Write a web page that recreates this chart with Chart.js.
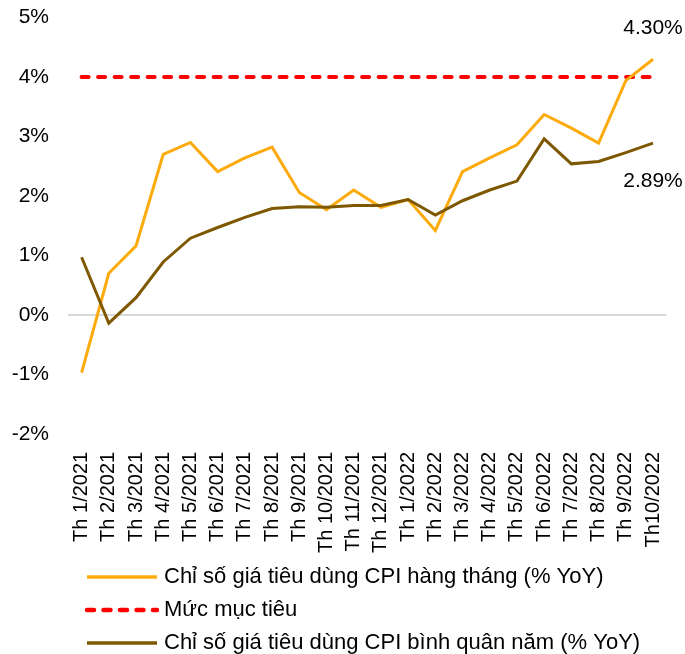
<!DOCTYPE html>
<html lang="vi">
<head>
<meta charset="utf-8">
<title>CPI Việt Nam</title>
<script src="https://cdn.jsdelivr.net/npm/chart.js@4.4.1/dist/chart.umd.min.js"></script>
<style>
    html, body { margin: 0; padding: 0; background: #fff; }
    #wrap { position: relative; width: 685px; height: 654px; }
</style>
</head>
<body>
<div id="wrap"><canvas id="cpiChart" width="685" height="654"></canvas></div>
<script>
// Data
const months = [
    'Th 1/2021', 'Th 2/2021', 'Th 3/2021', 'Th 4/2021', 'Th 5/2021', 'Th 6/2021',
    'Th 7/2021', 'Th 8/2021', 'Th 9/2021', 'Th 10/2021', 'Th 11/2021', 'Th 12/2021',
    'Th 1/2022', 'Th 2/2022', 'Th 3/2022', 'Th 4/2022', 'Th 5/2022', 'Th 6/2022',
    'Th 7/2022', 'Th 8/2022', 'Th 9/2022', 'Th10/2022'
];
const cpiMonthly = [
    -0.97, 0.70, 1.16, 2.70, 2.90, 2.41, 2.64, 2.82, 2.06, 1.77, 2.10, 1.81,
    1.94, 1.42, 2.41, 2.64, 2.86, 3.37, 3.14, 2.89, 3.94, 4.30
];
const cpiAverage = [
    0.97, -0.14, 0.29, 0.89, 1.29, 1.47, 1.64, 1.79, 1.82, 1.81, 1.84, 1.84,
    1.94, 1.68, 1.92, 2.10, 2.25, 2.96, 2.54, 2.58, 2.73, 2.89
];
const cpiTarget = [
    4, 4, 4, 4, 4, 4, 4, 4, 4, 4, 4,
    4, 4, 4, 4, 4, 4, 4, 4, 4, 4, 4
];
const seriesNames = [
    'Chỉ số giá tiêu dùng CPI hàng tháng (% YoY)',
    'Mức mục tiêu',
    'Chỉ số giá tiêu dùng CPI bình quân năm (% YoY)'
];
const yMin = -2;
const yMax = 5;

const FONT = "'Liberation Sans', Arial, sans-serif";
const ORANGE = '#FCAA0C';
const BROWN = '#7D5800';
const RED = '#FF0000';

// Legend drawn as stacked rows under the axis labels
const legendRows = {
    id: 'legendRows',
    afterDraw(chart) {
        const ctx = chart.ctx;
        const lineStart = 87, lineEnd = 157, textX = 164;
        const firstRow = 577, rowGap = 33;
        ctx.save();
        ctx.font = '22px ' + FONT;
        ctx.textBaseline = 'middle';
        ctx.textAlign = 'left';
        chart.data.datasets.forEach(function(ds, i) {
            const y = firstRow + i * rowGap;
            ctx.beginPath();
            ctx.strokeStyle = ds.borderColor;
            ctx.lineWidth = ds.borderWidth + 0.5;
            ctx.lineCap = ds.borderCapStyle || 'butt';
            ctx.setLineDash(ds.borderDash || []);
            ctx.moveTo(lineStart, y);
            ctx.lineTo(lineEnd, y);
            ctx.stroke();
            ctx.setLineDash([]);
            ctx.fillStyle = '#000';
            ctx.fillText(ds.label, textX, y);
        });
        ctx.restore();
    }
};

// Value labels at the last point of the two CPI series
const endLabels = {
    id: 'endLabels',
    afterDatasetsDraw(chart) {
        const ctx = chart.ctx;
        ctx.save();
        ctx.font = '21px ' + FONT;
        ctx.fillStyle = '#000';
        ctx.textAlign = 'center';
        ctx.textBaseline = 'middle';
        chart.data.datasets.forEach(function(ds, i) {
            if (!ds.endLabelOffset) return;
            const meta = chart.getDatasetMeta(i);
            const last = meta.data[meta.data.length - 1];
            const value = ds.data[ds.data.length - 1];
            ctx.fillText(value.toFixed(2) + '%', last.x, last.y + ds.endLabelOffset);
        });
        ctx.restore();
    }
};

const ctx = document.getElementById('cpiChart');
new Chart(ctx, {
    type: 'line',
    data: {
        labels: months,
        datasets: [{
            label: seriesNames[0],
            data: cpiMonthly,
            borderColor: ORANGE,
            borderWidth: 3,
            pointRadius: 0,
            tension: 0,
            order: 2,
            endLabelOffset: -31
        }, {
            label: seriesNames[1],
            data: cpiTarget,
            borderColor: RED,
            borderWidth: 4,
            borderDash: [7, 9.5],
            borderCapStyle: 'round',
            pointRadius: 0,
            tension: 0,
            order: 3
        }, {
            label: seriesNames[2],
            data: cpiAverage,
            borderColor: BROWN,
            borderWidth: 3,
            pointRadius: 0,
            tension: 0,
            order: 1,
            endLabelOffset: 38
        }]
    },
    options: {
        responsive: false,
        animation: false,
        devicePixelRatio: 1,
        layout: {
            padding: { top: 0, right: 0, bottom: 93, left: 0 }
        },
        plugins: {
            legend: { display: false },
            tooltip: { enabled: false }
        },
        scales: {
            x: {
                offset: true,
                grid: { display: false, drawTicks: true, tickLength: 10 },
                border: { display: false },
                ticks: {
                    autoSkip: false,
                    minRotation: 90,
                    maxRotation: 90,
                    padding: 8,
                    color: '#000',
                    font: { family: FONT, size: 20 }
                }
            },
            y: {
                min: yMin,
                max: yMax,
                afterFit: function(scale) { scale.width = 68; },
                grid: {
                    drawTicks: true,
                    tickLength: 14,
                    tickColor: 'rgba(0,0,0,0)',
                    lineWidth: 2,
                    color: function(c) {
                        return c.tick && c.tick.value === 0 ? '#D9D9D9' : 'rgba(0,0,0,0)';
                    }
                },
                border: { display: false },
                ticks: {
                    stepSize: 1,
                    padding: 5,
                    color: '#000',
                    font: { family: FONT, size: 21 },
                    callback: function(v) { return v + '%'; }
                }
            }
        }
    },
    plugins: [endLabels, legendRows]
});
</script>
</body>
</html>
